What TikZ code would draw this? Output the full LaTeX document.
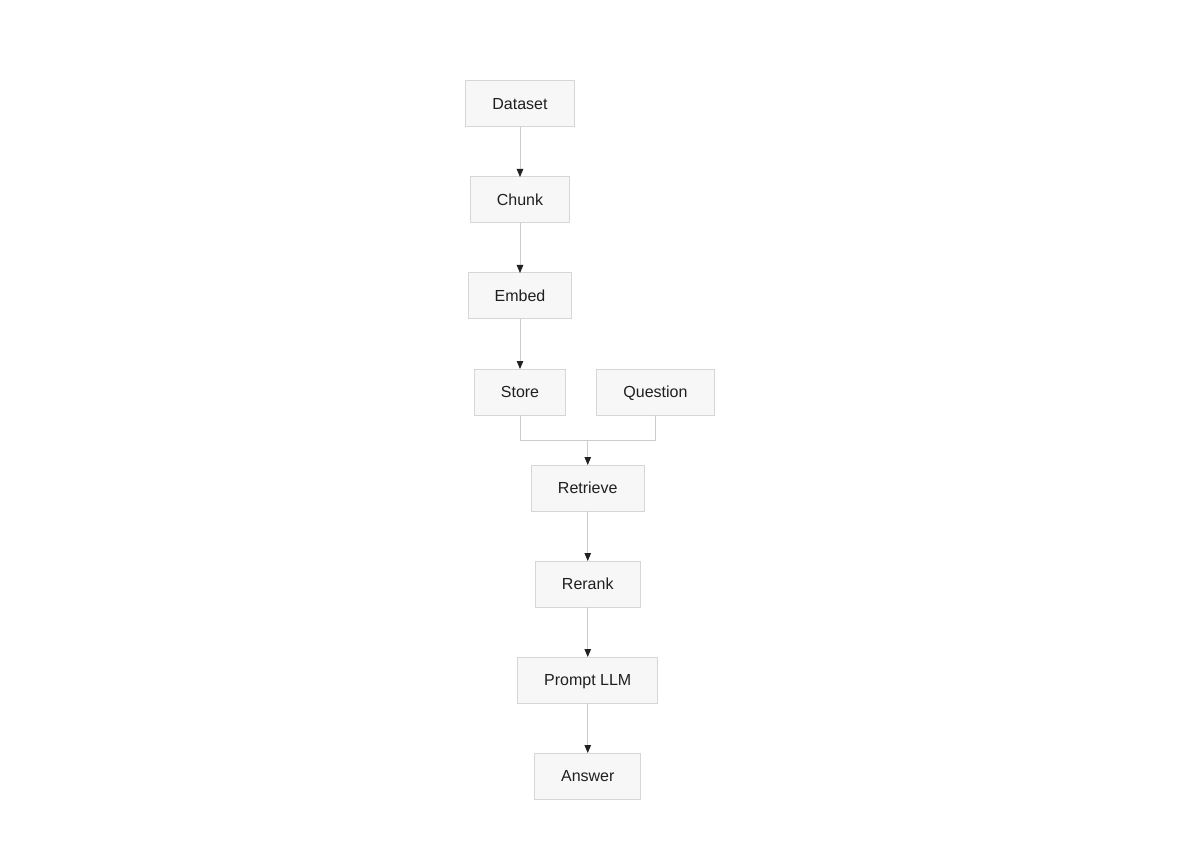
\documentclass[tikz,border=0pt]{standalone}
\usepackage{fontspec}
\setmainfont{Liberation Sans}
\usetikzlibrary{calc}
\usetikzlibrary{positioning}
\usetikzlibrary{arrows.meta}

\definecolor{boxfill}{HTML}{F7F7F7}
\definecolor{boxline}{HTML}{D6D6D6}
\definecolor{wire}{HTML}{CCCCCC}
\definecolor{tipcol}{HTML}{222222}

\begin{document}
\begin{tikzpicture}[x=1pt, y=1pt,
        box/.style={rectangle, draw=boxline, fill=boxfill, line width=1pt, outer sep=0pt,
            minimum height=46pt, inner xsep=26.5pt, text height=11.5pt, text depth=0pt,
            font=\fontsize{16}{19}\selectfont, text=black!88},
        wire/.style={draw=wire, line width=1pt},
        arrow/.style={wire, -{Triangle[length=8pt, width=6.5pt, color=tipcol]}}]
            \useasboundingbox (0, 0) rectangle (1177, -858);
            % main chain
            \node[box] (dataset) at (520, -104) {Dataset};
            \node[box, below=50pt of dataset] (chunk) {Chunk};
            \node[box, below=50pt of chunk] (embed) {Embed};
            \node[box, below=50pt of embed] (store) {Store};
            \node[box] (question) at (655.5, -392) {Question};
            \coordinate (merge) at ($(store.south)!0.5!(question.south) - (0, 25)$);
            \node[box, below=25pt of merge] (retrieve) {Retrieve};
            \node[box, below=50pt of retrieve] (rerank) {Rerank};
            \node[box, below=50pt of rerank] (prompt) {Prompt LLM};
            \node[box, below=50pt of prompt] (answer) {Answer};
            % connectors
            \draw[arrow] (dataset) -- (chunk);
            \draw[arrow] (chunk) -- (embed);
            \draw[arrow] (embed) -- (store);
            \draw[wire] (store.south) |- (merge);
            \draw[wire] (question.south) |- (merge);
            \draw[arrow] (merge) -- (retrieve);
            \draw[arrow] (retrieve) -- (rerank);
            \draw[arrow] (rerank) -- (prompt);
            \draw[arrow] (prompt) -- (answer);
        \end{tikzpicture}
\end{document}
